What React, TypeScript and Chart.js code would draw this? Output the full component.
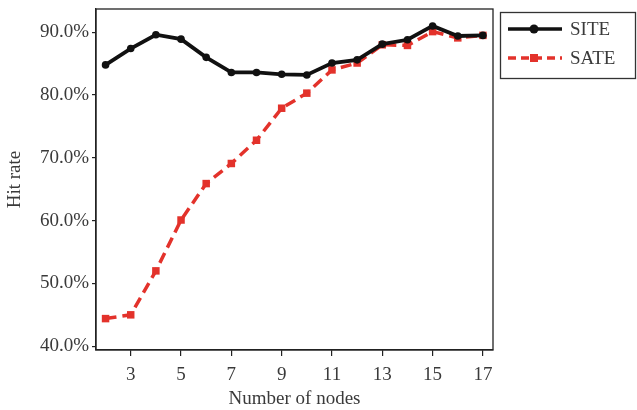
import React, { useEffect, useRef } from "react";
import { Chart, registerables } from "chart.js";

Chart.register(...registerables);

const nodes = [2, 3, 4, 5, 6, 7, 8, 9, 10, 11, 12, 13, 14, 15, 16, 17];
const siteHitRate = [84.8, 87.4, 89.6, 88.9, 86.0, 83.6, 83.6, 83.3, 83.2, 85.1, 85.6, 88.1, 88.8, 91.0, 89.4, 89.5];
const sateHitRate = [44.4, 45.0, 52.0, 60.1, 65.9, 69.1, 72.8, 77.9, 80.3, 84.0, 85.1, 88.0, 87.9, 90.1, 89.1, 89.5];
const xTickValues = [3, 5, 7, 9, 11, 13, 15, 17];
const yTickValues = [40, 50, 60, 70, 80, 90];
const seriesNames = ["SITE", "SATE"];

const FONT = "'Liberation Serif', 'DejaVu Serif', serif";
const BLACK = "#111111";
const RED = "#e3322b";
const TEXT = "#3a3a3a";

const frameAndLegend = {
  id: "frameAndLegend",
  afterDraw(chart: any) {
    const ctx = chart.ctx as CanvasRenderingContext2D;
    const { left, right, top, bottom } = chart.chartArea;
    ctx.save();
    ctx.strokeStyle = "#222";
    ctx.lineWidth = 1.3;
    ctx.strokeRect(left, top, right - left, bottom - top);

    // legend box
    const bx = 500.5, by = 12.5, bw = 135, bh = 66;
    ctx.lineWidth = 1.3;
    ctx.strokeStyle = "#333";
    ctx.strokeRect(bx, by, bw, bh);

    const rows = [
      { y: 29, color: BLACK, dash: [] as number[], style: "circle" },
      { y: 58, color: RED, dash: [8, 5], style: "rect" },
    ];
    rows.forEach((r, i) => {
      ctx.save();
      ctx.strokeStyle = r.color;
      ctx.lineWidth = 3.5;
      ctx.setLineDash(r.dash);
      ctx.beginPath();
      ctx.moveTo(508, r.y);
      ctx.lineTo(562, r.y);
      ctx.stroke();
      ctx.setLineDash([]);
      ctx.fillStyle = r.color;
      if (r.style === "circle") {
        ctx.beginPath();
        ctx.arc(534, r.y, 4.5, 0, Math.PI * 2);
        ctx.fill();
      } else {
        ctx.fillRect(530, r.y - 4, 8, 8);
      }
      ctx.restore();
      ctx.fillStyle = TEXT;
      ctx.font = `19px ${FONT}`;
      ctx.textBaseline = "middle";
      ctx.textAlign = "left";
      ctx.fillText(seriesNames[i], 570, r.y + 1);
    });
    ctx.restore();
  },
};

export default function App() {
  const ref = useRef<HTMLCanvasElement | null>(null);

  useEffect(() => {
    document.body.style.margin = "0";
    if (!ref.current) return;
    const chart = new Chart(ref.current, {
      type: "line",
      data: {
        datasets: [
          {
            label: seriesNames[0],
            data: nodes.map((n, i) => ({ x: n, y: siteHitRate[i] })),
            borderColor: BLACK,
            backgroundColor: BLACK,
            borderWidth: 3.8,
            pointStyle: "circle",
            pointRadius: 3.8,
            pointBorderWidth: 0,
            tension: 0,
          },
          {
            label: seriesNames[1],
            data: nodes.map((n, i) => ({ x: n, y: sateHitRate[i] })),
            borderColor: RED,
            backgroundColor: RED,
            borderWidth: 3.5,
            borderDash: [11, 6],
            pointStyle: "rect",
            pointRadius: 5.3,
            pointBorderWidth: 0,
            tension: 0,
          },
        ],
      },
      options: {
        responsive: false,
        animation: false,
        layout: { padding: { left: 0, right: 144, top: 9, bottom: 0 } },
        plugins: {
          legend: { display: false },
          tooltip: { enabled: false },
        },
        scales: {
          x: {
            type: "linear",
            min: 1.62,
            max: 17.4,
            afterBuildTicks: (scale: any) => {
              scale.ticks = xTickValues.map((v) => ({ value: v }));
            },
            afterFit: (scale: any) => {
              scale.height = 60;
              scale.paddingLeft = 0;
              scale.paddingRight = 0;
            },
            grid: {
              display: true,
              drawOnChartArea: false,
              drawTicks: true,
              tickLength: 6,
              color: "#222",
              lineWidth: 1.2,
            },
            border: { display: true, color: "#222", width: 1.3 },
            ticks: {
              color: TEXT,
              font: { family: FONT, size: 19 },
              padding: 8,
              maxRotation: 0,
              autoSkip: false,
              callback: (v: any) => String(v),
            },
            title: {
              display: true,
              text: "Number of nodes",
              color: TEXT,
              font: { family: FONT, size: 19 },
              padding: { top: 0, bottom: 0 },
            },
          },
          y: {
            type: "linear",
            min: 39.4,
            max: 93.7,
            afterBuildTicks: (scale: any) => {
              scale.ticks = yTickValues.map((v) => ({ value: v }));
            },
            afterFit: (scale: any) => {
              scale.width = 96;
              scale.paddingTop = 0;
              scale.paddingBottom = 0;
            },
            grid: {
              display: true,
              drawOnChartArea: false,
              drawTicks: true,
              tickLength: 4,
              color: "#222",
              lineWidth: 1.2,
            },
            border: { display: true, color: "#222", width: 1.3 },
            ticks: {
              color: TEXT,
              font: { family: FONT, size: 19 },
              padding: 3,
              autoSkip: false,
              callback: (v: any) => Number(v).toFixed(1) + "%",
            },
            title: {
              display: true,
              text: "Hit rate",
              color: TEXT,
              font: { family: FONT, size: 19 },
              padding: { top: 4, bottom: 0 },
            },
          },
        },
      },
      plugins: [frameAndLegend],
    });
    return () => chart.destroy();
  }, []);

  return <canvas ref={ref} width={637} height={410} style={{ display: "block" }} />;
}
